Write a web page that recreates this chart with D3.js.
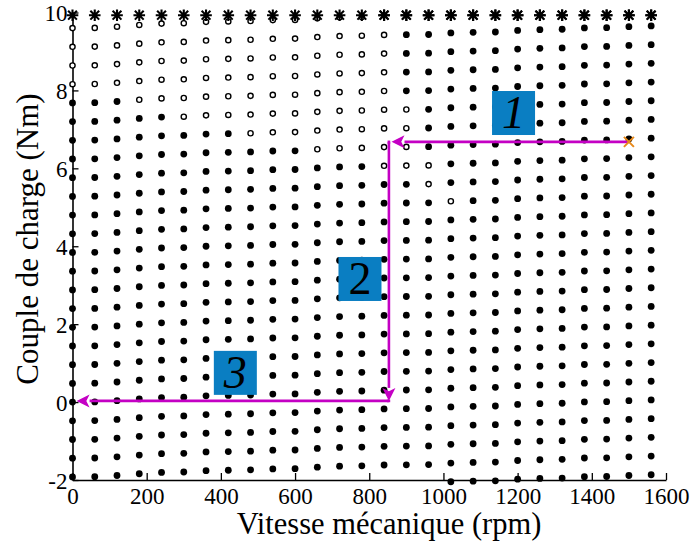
<!DOCTYPE html>
<html><head><meta charset="utf-8">
<script src="https://cdn.jsdelivr.net/npm/d3@7"></script>
<style>body{margin:0;background:#fff}svg{display:block}</style>
</head><body>
<script>
// ---- data ----
const speeds = [0,60,120,180,240,300,360,420,480,540,600,660,720,780,840,900,960,1020,1080,1140,1200,1260,1320,1380,1440,1500,1560];
// torque levels of the lattice rows at zero speed (row index k = -5 .. 21)
const rowK = [-5,-4,-3,-2,-1,0,1,2,3,4,5,6,7,8,9,10,11,12,13,14,15,16,17,18,19,20,21];
const rowTorques = [-2.40,-1.92,-1.44,-0.96,-0.48,0.00,0.48,0.96,1.44,1.92,2.40,2.88,3.36,3.84,4.32,4.80,5.28,5.76,6.24,6.72,7.20,7.68,8.16,8.64,9.12,9.60,10.08];
// upward drift of each speed column (Nm)
const colShift = [0,0.005,0.035,0.08,0.115,0.125,0.16,0.17,0.18,0.205,0.21,0.25,0.275,0.285,0.305,0.31,0.315,0.355,0.37,0.38,0.42,0.44,0.45,0.485,0.49,0.515,0.535];
// rows (k) drawn as open circles in each column
const openFrom = [17,17,17,16,16,15,15,15,14,14,14,13,13,13,12,12,11,10,99,99,99,99,99,99,99,99,99];
const openTo   = [20,20,20,20,20,20,20,20,20,20,20,20,20,20,19,15,12,10,-99,-99,-99,-99,-99,-99,-99,-99,-99];
const torqueMax = 9.9, torqueClip = 9.93, torqueMin = -2.07;
const xTicks = [0,200,400,600,800,1000,1200,1400,1600];
const yTicks = [-2,0,2,4,6,8,10];
// trajectory (speed rpm, torque Nm)
const start = {speed:1500, torque:6.68};
const seg1 = [[1500,6.68],[860,6.68]];
const seg2 = [[853,6.68],[853,0.03]];
const seg3 = [[853,0.03],[11,0.03]];
const labels = [{t:"1",speed:1189,torque:7.42,italic:true},{t:"2",speed:775,torque:3.16,italic:false},{t:"3",speed:439,torque:0.75,italic:true}];

// ---- drawing ----
const W=700,H=544;
const svg=d3.select("body").append("svg").attr("width",W).attr("height",H);
const x=d3.scaleLinear([0,1600],[72.5,666]);
const y=d3.scaleLinear([-2,10],[480,12.5]);
const font="Liberation Serif";
const fmt=d=>String(d);

const xa=svg.append("g").attr("transform","translate(0,480)")
  .call(d3.axisBottom(x).tickValues(xTicks).tickFormat(fmt).tickSizeInner(-7).tickSizeOuter(0).tickPadding(6));
const ya=svg.append("g").attr("transform","translate(72.5,0)")
  .call(d3.axisLeft(y).tickValues(yTicks).tickFormat(fmt).tickSizeInner(-6).tickSizeOuter(0).tickPadding(5));
[xa,ya].forEach(a=>{
  a.attr("font-family",font).attr("font-size",23);
  a.selectAll("path.domain").attr("stroke","#000").attr("stroke-width",1.6);
  a.selectAll("line").attr("stroke","#000").attr("stroke-width",1.3);
  a.selectAll("text").attr("font-family",font).attr("font-size",23).attr("fill","#000");
});
xa.selectAll("text").attr("dy","0.8em");
ya.selectAll("text").attr("dy","0.35em");

// points
const pts=[];
speeds.forEach((s,i)=>{
  rowTorques.forEach((t0,j)=>{
    const k=rowK[j];
    const t=t0+colShift[i];
    if(t<torqueMin) return;
    if(t>torqueMax){ pts.push({s,t:torqueClip,type:"star"}); return; }
    const open = k>=openFrom[i] && k<=openTo[i];
    pts.push({s,t,type:open?"open":"fill"});
  });
});
const g=svg.append("g");
g.selectAll("circle.f").data(pts.filter(p=>p.type==="fill")).join("circle")
  .attr("cx",d=>x(d.s)).attr("cy",d=>y(d.t)).attr("r",3.4).attr("fill","#000");
g.selectAll("circle.o").data(pts.filter(p=>p.type==="open")).join("circle")
  .attr("cx",d=>x(d.s)).attr("cy",d=>y(d.t)).attr("r",2.6)
  .attr("fill","#fff").attr("stroke","#000").attr("stroke-width",1.4);
const stars=pts.filter(p=>p.type==="star");
const a=5.8,b=4.4;
g.selectAll("path.star").data(stars).join("path")
  .attr("d",d=>{const cx=x(d.s),cy=y(d.t);
    return `M${cx-a},${cy}L${cx+a},${cy}M${cx},${cy-a}L${cx},${cy+a}M${cx-b},${cy-b}L${cx+b},${cy+b}M${cx-b},${cy+b}L${cx+b},${cy-b}`;})
  .attr("stroke","#000").attr("stroke-width",2.1).attr("fill","none");

// trajectory
const mag="#c400c4";
function arrowSeg(seg){
  const [p,q]=seg;
  const x1=x(p[0]),y1=y(p[1]),x2=x(q[0]),y2=y(q[1]);
  const ang=Math.atan2(y2-y1,x2-x1);
  const L=13,Wd=6.5;
  const bx=x2-L*Math.cos(ang), by=y2-L*Math.sin(ang);
  svg.append("line").attr("x1",x1).attr("y1",y1).attr("x2",bx).attr("y2",by)
    .attr("stroke",mag).attr("stroke-width",2.6);
  const px=-Math.sin(ang),py=Math.cos(ang);
  svg.append("path").attr("d",`M${x2},${y2}L${bx+Wd*px},${by+Wd*py}L${bx+L*0.25*Math.cos(ang)},${by+L*0.25*Math.sin(ang)}L${bx-Wd*px},${by-Wd*py}Z`)
    .attr("fill",mag);
}
arrowSeg(seg1);
svg.append("line").attr("x1",x(seg2[0][0])).attr("y1",y(seg2[0][1])-1.3).attr("x2",x(seg2[0][0])).attr("y2",y(seg2[0][1])+2)
  .attr("stroke",mag).attr("stroke-width",2.6);
arrowSeg(seg2);
svg.append("line").attr("x1",x(seg3[0][0])+1.3).attr("y1",y(seg3[0][1])).attr("x2",x(seg3[0][0])-2).attr("y2",y(seg3[0][1]))
  .attr("stroke",mag).attr("stroke-width",2.6);
arrowSeg(seg3);
// start marker
const sx=x(start.speed),sy=y(start.torque),c=5;
svg.append("path").attr("d",`M${sx-c},${sy-c}L${sx+c},${sy+c}M${sx-c},${sy+c}L${sx+c},${sy-c}`)
  .attr("stroke","#e8891a").attr("stroke-width",2);

// labels
labels.forEach(l=>{
  const cx=x(l.speed),cy=y(l.torque);
  svg.append("rect").attr("x",cx-21.5).attr("y",cy-22).attr("width",43).attr("height",44).attr("fill","#0a7ec2");
  svg.append("text").attr("x",cx).attr("y",cy+15).attr("text-anchor","middle")
    .attr("font-family",font).attr("font-size",46).attr("font-style",l.italic?"italic":"normal")
    .attr("fill","#000").text(l.t);
});

// titles
svg.append("text").attr("x",389).attr("y",534).attr("text-anchor","middle")
  .attr("font-family",font).attr("font-size",30.5).attr("fill","#000").text("Vitesse mécanique (rpm)");
svg.append("text").attr("transform","translate(38,239) rotate(-90)").attr("text-anchor","middle")
  .attr("font-family",font).attr("font-size",31).attr("fill","#000").text("Couple de charge (Nm)");
</script>
</body></html>
